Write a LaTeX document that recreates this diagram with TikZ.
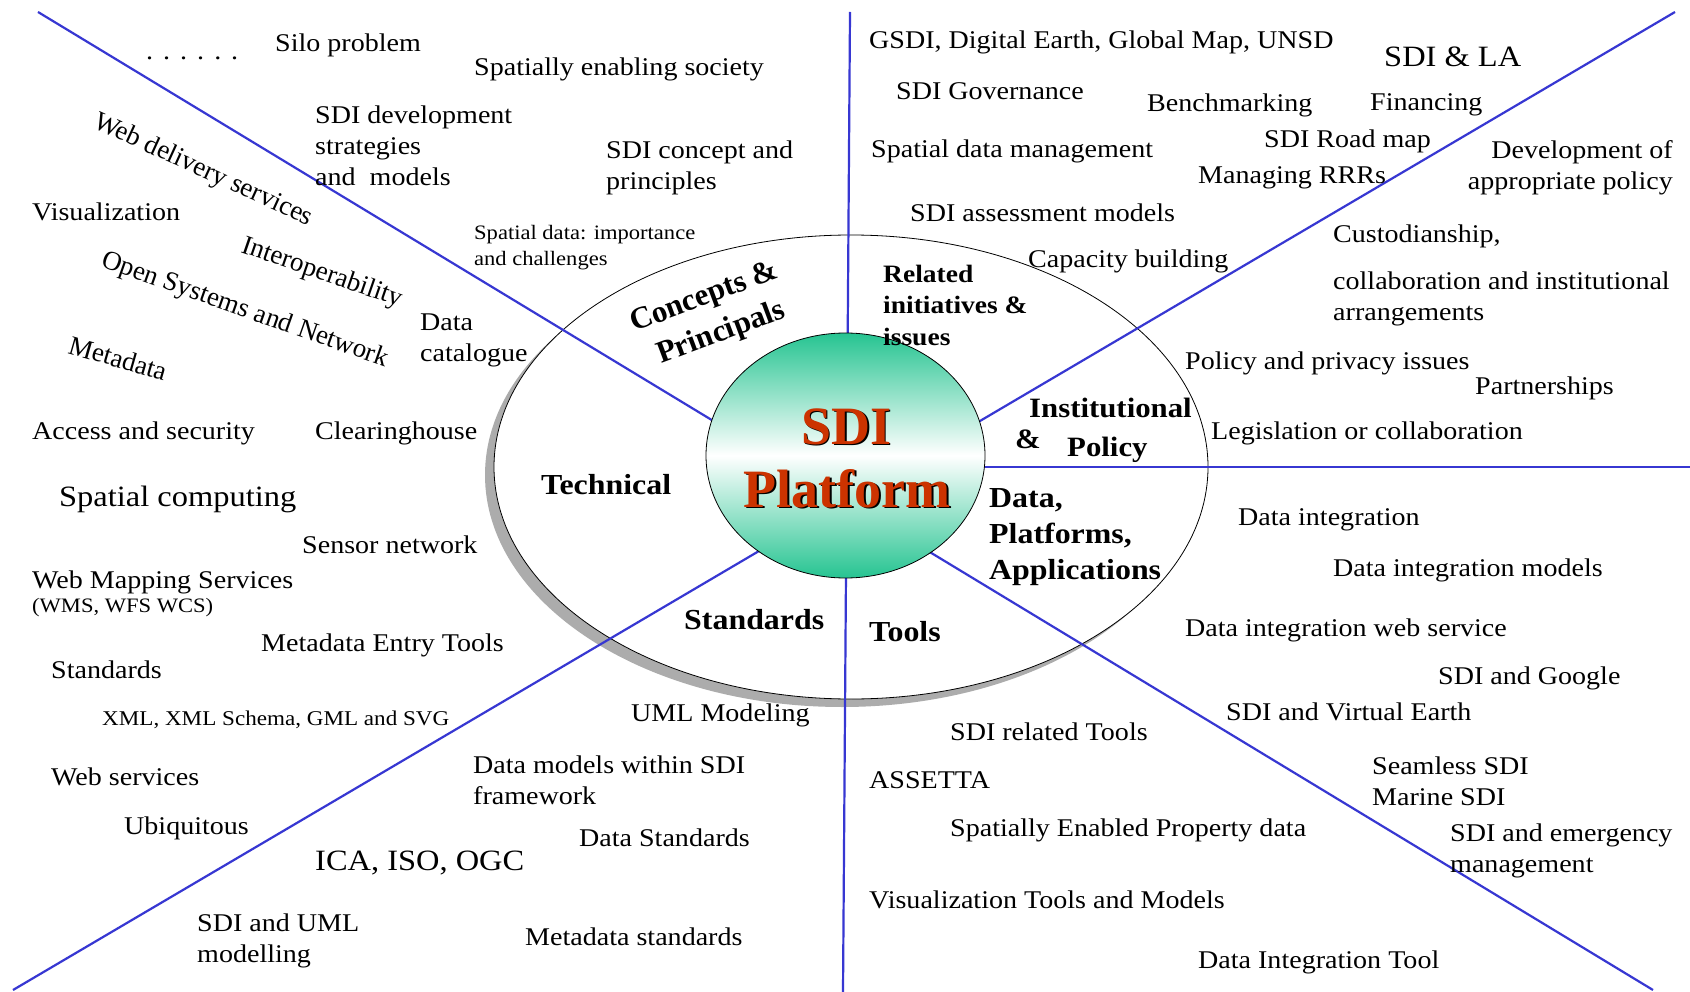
\documentclass[tikz,border=0pt]{standalone}
\usepackage{fontspec}
\setmainfont{Liberation Serif}[FakeStretch=1.1]
\newfontfamily\plainserif{Liberation Serif}
\usetikzlibrary{shapes.geometric,shadows}
\definecolor{spokeblue}{RGB}{55,55,210}
\definecolor{coreteal}{RGB}{38,196,145}
\definecolor{titlered}{RGB}{204,51,0}
\definecolor{shadowgray}{RGB}{172,172,172}

\begin{document}
\begin{tikzpicture}[x=1pt,y=1pt]
    \tikzstyle{every node}+=[inner sep=0pt]
    \tikzstyle{item}=[anchor=west, align=left, yshift=-3pt, font=\fontsize{25.5}{31}\selectfont]
    \tikzstyle{big}=[item, font=\fontsize{29.5}{35}\selectfont]
    \tikzstyle{small}=[item, font=\fontsize{20.5}{26}\selectfont]
    \tikzstyle{slant}=[anchor=base west, font=\plainserif\fontsize{27}{32}\selectfont]
    \tikzstyle{sector}=[anchor=west, align=left, yshift=-2pt, font=\bfseries\fontsize{29}{36}\selectfont]
    \tikzstyle{title}=[anchor=base, font=\plainserif\bfseries\fontsize{54}{60}\selectfont]
    \tikzstyle{spoke}=[spokeblue, line width=2.2pt]
    \fill [white] (0,0) rectangle (1690,-992);
    \useasboundingbox (0,0) rectangle (1690,-992);
    \node (ring) [ellipse, draw, line width=0.8pt, fill=white, minimum width=714, minimum height=464,
        drop shadow={shadow xshift=-9pt, shadow yshift=-8pt, fill=shadowgray, opacity=1}] at (851,-467) {};
    \coordinate (nw) at (38,-12);
    \coordinate (se) at (1653,-990);
    \coordinate (ne) at (1675,-12);
    \coordinate (sw) at (13,-990);
    \coordinate (ntop) at (850,-12);
    \coordinate (sbot) at (843,-992);
    \coordinate (mid) at (846,-467);
    \coordinate (eend) at (1690,-467);
    \draw [spoke] (nw) -- (se);
    \draw [spoke] (ne) -- (sw);
    \draw [spoke] (ntop) -- (sbot);
    \draw [spoke] (mid) -- (eend);
    \node (core) [ellipse, draw, line width=0.8pt, minimum width=279, minimum height=245,
        top color=coreteal, bottom color=coreteal, middle color=white] at (845.5,-455.5) {};
    \node (sdishade) [title, black] at (848,-445.5) {SDI};
    \node (sdi) [title, titlered] at (846.5,-444) {SDI};
    \node (platshade) [title, black] at (848.5,-508.5) {Platform};
    \node (platform) [title, titlered] at (847,-507) {Platform};
    \node (concepts) [anchor=base west, rotate=20.5, font=\plainserif\bfseries\fontsize{31}{36}\selectfont] at (634,-332) {Concepts \&};
    \node (principals) [anchor=base west, rotate=20.5, font=\plainserif\bfseries\fontsize{31}{36}\selectfont] at (661,-364) {Principals};
    \node (related) [sector, font=\bfseries\fontsize{25}{31.5}\selectfont] at (883,-303) {Related\\initiatives \&\\issues};
    \node (instit) [sector, font=\bfseries\fontsize{28}{34}\selectfont] at (1029,-406) {Institutional};
    \node (amp) [sector, font=\bfseries\fontsize{28}{34}\selectfont] at (1015,-437) {\&};
    \node (policy) [sector, font=\bfseries\fontsize{28}{34}\selectfont] at (1067,-448) {Policy};
    \node (technical) [sector] at (541,-483) {Technical};
    \node (platforms) [sector] at (989,-535) {Data,\\Platforms,\\Applications};
    \node (standards) [sector] at (684,-618) {Standards};
    \node (tools) [sector] at (869,-630) {Tools};
    \node (dots) [item, anchor=base west] at (146,-57) {.\hspace{10pt}.\hspace{10pt}.\hspace{10pt}.\hspace{10pt}.\hspace{10pt}.};
    \node (silo) [item] at (275,-42) {Silo problem};
    \node (society) [item] at (474,-66) {Spatially enabling society};
    \node (devmodels) [item] at (315,-143) {SDI development\\strategies\\and\ \ models};
    \node (concept) [item] at (606,-165) {SDI concept and\\principles};
    \node (webdel) [slant, rotate=-24.5] at (92,-127) {Web delivery services};
    \node (visual) [item] at (32,-209) {Visualization};
    \node (interop) [slant, rotate=-19] at (240,-252) {Interoperability};
    \node (opensys) [slant, rotate=-19.5] at (100,-266) {Open Systems and Network};
    \node (metadata) [slant, rotate=-16] at (67,-353) {Metadata};
    \node (spdata) [small] at (474,-245) {Spatial data: importance\\and challenges};
    \node (datacat) [item] at (420,-337) {Data\\catalogue};
    \node (access) [item] at (32,-430) {Access and security};
    \node (clearing) [item] at (315,-430) {Clearinghouse};
    \node (spcomp) [big] at (59,-496) {Spatial computing};
    \node (sensor) [item] at (302,-542) {Sensor network};
    \node (wms) [item] at (32,-579) {Web Mapping Services};
    \node (wcs) [small] at (32,-605) {(WMS, WFS WCS)};
    \node (metaentry) [item] at (261,-642) {Metadata Entry Tools};
    \node (stdleft) [item] at (51,-667) {Standards};
    \node (xml) [small, font=\fontsize{21}{26}\selectfont] at (102,-717) {XML, XML Schema, GML and SVG};
    \node (uml) [item] at (631,-712) {UML Modeling};
    \node (websvc) [item] at (51,-774) {Web services};
    \node (datamodels) [item] at (473,-777) {Data models within SDI\\framework};
    \node (ubiq) [item] at (124,-825) {Ubiquitous};
    \node (datastd) [item] at (579,-835) {Data Standards};
    \node (icaiso) [big] at (315,-860) {ICA, ISO, OGC};
    \node (sdiuml) [item] at (197,-938) {SDI and UML\\modelling};
    \node (metastd) [item] at (525,-934) {Metadata standards};
    \node (gsdi) [item] at (869,-39) {GSDI, Digital Earth, Global Map, UNSD};
    \node (sdila) [big] at (1384,-54) {SDI \& LA};
    \node (governance) [item] at (896,-88) {SDI Governance};
    \node (benchmark) [item] at (1147,-102) {Benchmarking};
    \node (financing) [item] at (1370,-102) {Financing};
    \node (sdm) [item] at (871,-148) {Spatial data management};
    \node (roadmap) [item] at (1264,-138) {SDI Road map};
    \node (rrrs) [item] at (1198,-175) {Managing RRRs};
    \node (policydev) [item, anchor=east, align=right] at (1673,-165) {Development of\\appropriate policy};
    \node (assess) [item] at (910,-210) {SDI assessment models};
    \node (custod) [item] at (1333,-233) {Custodianship,};
    \node (capacity) [item] at (1028,-258) {Capacity building};
    \node (collab) [item] at (1333,-296) {collaboration and institutional\\arrangements};
    \node (privacy) [item] at (1185,-360) {Policy and privacy issues};
    \node (partner) [item] at (1475,-385) {Partnerships};
    \node (legis) [item] at (1211,-430) {Legislation or collaboration};
    \node (dataint) [item] at (1238,-517) {Data integration};
    \node (dimodels) [item] at (1333,-567) {Data integration models};
    \node (diweb) [item] at (1185,-627) {Data integration web service};
    \node (google) [item] at (1438,-675) {SDI and Google};
    \node (virtual) [item] at (1226,-709) {SDI and Virtual Earth};
    \node (reltools) [item] at (950,-729) {SDI related Tools};
    \node (seamless) [item] at (1372,-778) {Seamless SDI\\Marine SDI};
    \node (assetta) [item] at (869,-777) {ASSETTA};
    \node (sepd) [item] at (950,-827) {Spatially Enabled Property data};
    \node (emergency) [item] at (1450,-848) {SDI and emergency\\management};
    \node (vistools) [item] at (869,-897) {Visualization Tools and Models};
    \node (ditool) [item] at (1198,-959) {Data Integration Tool};
\end{tikzpicture}
\end{document}
